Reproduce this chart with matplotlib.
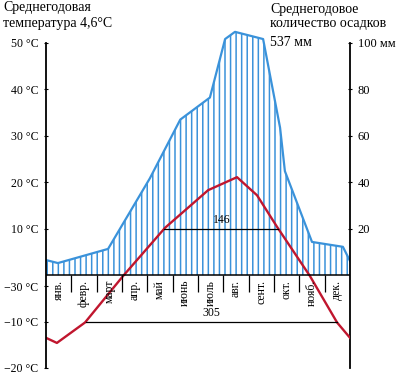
import numpy as np
import matplotlib.pyplot as plt

plt.rcParams['font.family'] = ['Liberation Serif', 'DejaVu Serif']
plt.rcParams['hatch.linewidth'] = 1.1

# climate data, x in months from start of January
months = ['янв.', 'февр.', 'март', 'апр.', 'май', 'июнь',
          'июль', 'авг.', 'сент.', 'окт.', 'нояб.', 'дек.']
temp_x = [0, 0.43, 1.54, 3.04, 4.7, 6.4, 7.54, 8.33, 9.12, 10.42, 11.49, 12]
temp_c = [-13.5, -14.6, -10.2, -0.2, 10.2, 18.3, 21.1, 17.2, 10.4, -0.2, -10.2, -13.5]
precip_x = [0, 0.47, 2.45, 4.1, 5.3, 6.47, 7.07, 7.46, 8.57, 9.24, 9.43, 10.5, 11.72, 12]
precip_mm = [6.5, 5.2, 11.3, 41.7, 67, 76.5, 101.7, 104.8, 101.7, 63.5, 44.8, 14.3, 12.2, 6.1]

t_ticks = [-20, -10, -2.4, 10, 20, 30, 40, 50]
t_labels = ['−20 °C', '−10 °C', '−30 °C', '10 °C', '20 °C', '30 °C', '40 °C', '50 °C']
p_ticks = [20, 40, 60, 80, 100]
p_labels = ['20', '40', '60', '80', '100 мм']
period_levels = [10, -10]
period_days = ['146', '305']

red = '#c0162e'
blue = '#3a92da'


def crossings(level, x, y):
    res = []
    for i in range(len(x) - 1):
        a, b = y[i] - level, y[i + 1] - level
        if a * b < 0:
            res.append(x[i] + (x[i + 1] - x[i]) * a / (a - b))
    return res


fig = plt.figure(figsize=(3.98, 3.76), dpi=100)
ax = fig.add_axes([46 / 398, 8 / 376, 304 / 398, 75 * 4.643 / 376])
ax2 = ax.twinx()
ax.set_zorder(ax2.get_zorder() + 1)
ax.patch.set_visible(False)

ax.set_xlim(0, 12)
ax.set_ylim(-20, 55)
ax2.set_ylim(-40, 110)

# precipitation, hatched
ax2.fill_between(precip_x, 0, precip_mm, facecolor='white', edgecolor=blue,
                 hatch='|||', linewidth=0)
ax2.plot(precip_x, precip_mm, color=blue, lw=1.6)

# temperature
ax.plot(temp_x, temp_c, color=red, lw=1.7)

# month band
ax.axhline(0, color='black', lw=1.1)
ax.vlines(np.arange(1, 12), -3.6, 0, color='black', lw=0.9)
for i, m in enumerate(months):
    ax.text(i + 0.5, -1.0, m, rotation=90, ha='center', va='top', fontsize=8.5)

# periods
for lvl, d in zip(period_levels, period_days):
    c = crossings(lvl, temp_x, temp_c)
    ax.plot([c[0], c[-1]], [lvl, lvl], color='black', lw=0.9)
    ax.text((c[0] + c[-1]) / 2, lvl + 0.6, d, ha='center', va='bottom', fontsize=8.5)

for s in ['top', 'bottom', 'right']:
    ax.spines[s].set_visible(False)
for s in ['top', 'bottom', 'left']:
    ax2.spines[s].set_visible(False)
ax.spines['left'].set_bounds(-20, 50)
ax2.spines['right'].set_bounds(-40, 100)
ax.spines['left'].set_linewidth(1.3)
ax2.spines['right'].set_linewidth(1.3)

ax.set_xticks([])
ax.set_yticks(t_ticks)
ax.set_yticklabels(t_labels, fontsize=8.5)
ax.tick_params(axis='y', direction='inout', length=3, pad=4)
ax2.set_yticks(p_ticks)
ax2.set_yticklabels(p_labels, fontsize=9)
ax2.tick_params(axis='y', direction='inout', length=3, pad=4)

fig.text(3 / 398, 1 - 1 / 376, 'Среднегодовая\nтемпература 4,6°C', ha='left', va='top',
         fontsize=10, linespacing=1.3)
fig.text(270 / 398, 1 - 3 / 376, 'Среднегодовое\nколичество осадков', ha='left', va='top',
         fontsize=10, linespacing=1.05)
fig.text(270 / 398, 1 - 43 / 376, '537 мм', ha='left', va='center', fontsize=10)

fig.savefig('out.png', dpi=100)
